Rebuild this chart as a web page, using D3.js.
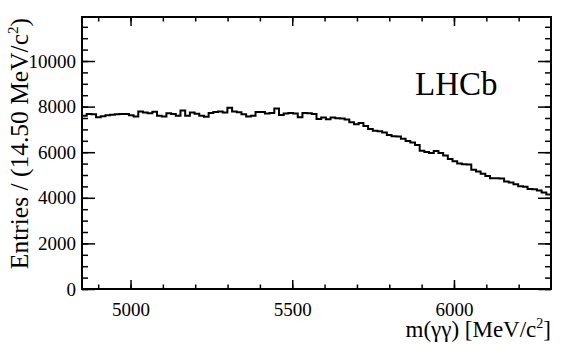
<!DOCTYPE html>
<html>
<head>
<meta charset="utf-8">
<script src="https://cdn.jsdelivr.net/npm/d3@7"></script>
<style>
  body { margin: 0; background: #fff; }
  svg { display: block; }
  text { font-family: "Liberation Serif", "DejaVu Serif", serif; fill: #000; }
  .axis path.domain { display: none; }
  .axis line { stroke: #000; stroke-width: 1.5; }
</style>
</head>
<body>
<svg width="581" height="345"></svg>
<script>
// histogram: m(gamma gamma), 100 bins of 14.50 MeV from 4850 to 6300
const binStart = 4850;
const binWidth = 14.5;
const counts = [
  7600, 7680, 7660, 7530, 7580, 7620, 7640, 7670, 7680, 7680,
  7620, 7570, 7790, 7740, 7710, 7770, 7600, 7570, 7710, 7680,
  7600, 7830, 7600, 7740, 7690, 7600, 7560, 7720, 7760, 7790,
  7740, 7950, 7780, 7750, 7670, 7570, 7600, 7760, 7760, 7700,
  7720, 7920, 7630, 7700, 7720, 7700, 7530, 7720, 7710, 7680,
  7460, 7520, 7450, 7520, 7490, 7480, 7430, 7310, 7230, 7280,
  7150, 7020, 6940, 6920, 6860, 6750, 6700, 6690, 6590, 6490,
  6430, 6320, 6060, 6010, 5960, 6050, 5960, 5860, 5700, 5600,
  5500, 5470, 5460, 5230, 5150, 5050, 4960, 4860, 4860, 4850,
  4710, 4670, 4590, 4510, 4480, 4390, 4370, 4320, 4230, 4150
];
const xMajor = [5000, 5500, 6000];
const xMinor = d3.range(4900, 6300, 100);
const yMajor = [0, 2000, 4000, 6000, 8000, 10000];
const yMinor = d3.range(0, 12000, 500);

const serif = "Liberation Serif, DejaVu Serif, serif";
const svg = d3.select("svg");
const margin = { top: 17, right: 30, bottom: 56, left: 82 };
const innerWidth = 581 - margin.left - margin.right;
const innerHeight = 345 - margin.top - margin.bottom;

const xScale = d3.scaleLinear().domain([4850, 6300]).range([0, innerWidth]);
const yScale = d3.scaleLinear().domain([0, 11930]).range([innerHeight, 0]);

const g = svg.append("g").attr("transform", `translate(${margin.left},${margin.top})`);

// minor ticks, all four sides
g.append("g").attr("class", "axis").call(d3.axisLeft(yScale).tickValues(yMinor).tickSize(-6).tickFormat(""));
g.append("g").attr("class", "axis").attr("transform", `translate(${innerWidth},0)`)
  .call(d3.axisRight(yScale).tickValues(yMinor).tickSize(-6).tickFormat(""));
g.append("g").attr("class", "axis").attr("transform", `translate(0,${innerHeight})`)
  .call(d3.axisBottom(xScale).tickValues(xMinor).tickSize(-4.5).tickFormat(""));
g.append("g").attr("class", "axis")
  .call(d3.axisTop(xScale).tickValues(xMinor).tickSize(-4.5).tickFormat(""));
g.selectAll(".axis text").remove();

// major ticks
const yAxisG = g.append("g").attr("class", "axis")
  .call(d3.axisLeft(yScale).tickValues(yMajor).tickSize(-13).tickFormat(d3.format("d")));
yAxisG.attr("font-family", serif);
yAxisG.selectAll("text").attr("font-size", 19).attr("font-family", serif).attr("x", -6);
const rAxisG = g.append("g").attr("class", "axis").attr("transform", `translate(${innerWidth},0)`)
  .call(d3.axisRight(yScale).tickValues(yMajor).tickSize(-13));
rAxisG.selectAll("text").remove();

const xAxisG = g.append("g").attr("class", "axis").attr("transform", `translate(0,${innerHeight})`)
  .call(d3.axisBottom(xScale).tickValues(xMajor).tickSize(-9).tickFormat(d3.format("d")));
xAxisG.attr("font-family", serif);
xAxisG.selectAll("text").attr("font-size", 19).attr("font-family", serif).attr("y", 14);
const tAxisG = g.append("g").attr("class", "axis")
  .call(d3.axisTop(xScale).tickValues(xMajor).tickSize(-9));
tAxisG.selectAll("text").remove();

// step histogram
const line = d3.line()
  .x(d => xScale(d[0]))
  .y(d => yScale(d[1]));
const pts = [];
counts.forEach((c, i) => {
  pts.push([binStart + i * binWidth, c]);
  pts.push([binStart + (i + 1) * binWidth, c]);
});
g.append("path")
  .datum(pts)
  .attr("fill", "none")
  .attr("stroke", "#000")
  .attr("stroke-width", 2)
  .attr("d", line);

// frame
g.append("rect")
  .attr("width", innerWidth)
  .attr("height", innerHeight)
  .attr("fill", "none")
  .attr("stroke", "#000")
  .attr("stroke-width", 2);

// axis titles
const xt = svg.append("text")
  .attr("x", margin.left + innerWidth)
  .attr("y", 337)
  .attr("text-anchor", "end")
  .attr("font-size", 23);
xt.append("tspan").text("m(γγ) [MeV/c");
xt.append("tspan").attr("font-size", 14).attr("dy", -9).text("2");
xt.append("tspan").attr("dy", 9).text("]");

const yt = svg.append("text")
  .attr("transform", `translate(28,${margin.top + 1}) rotate(-90)`)
  .attr("text-anchor", "end")
  .attr("font-size", 25.5);
yt.append("tspan").text("Entries / (14.50 MeV/c");
yt.append("tspan").attr("font-size", 15).attr("dy", -10).text("2");
yt.append("tspan").attr("dy", 10).text(")");

svg.append("text")
  .attr("x", 415)
  .attr("y", 95)
  .attr("font-size", 33)
  .text("LHCb");
</script>
</body>
</html>
